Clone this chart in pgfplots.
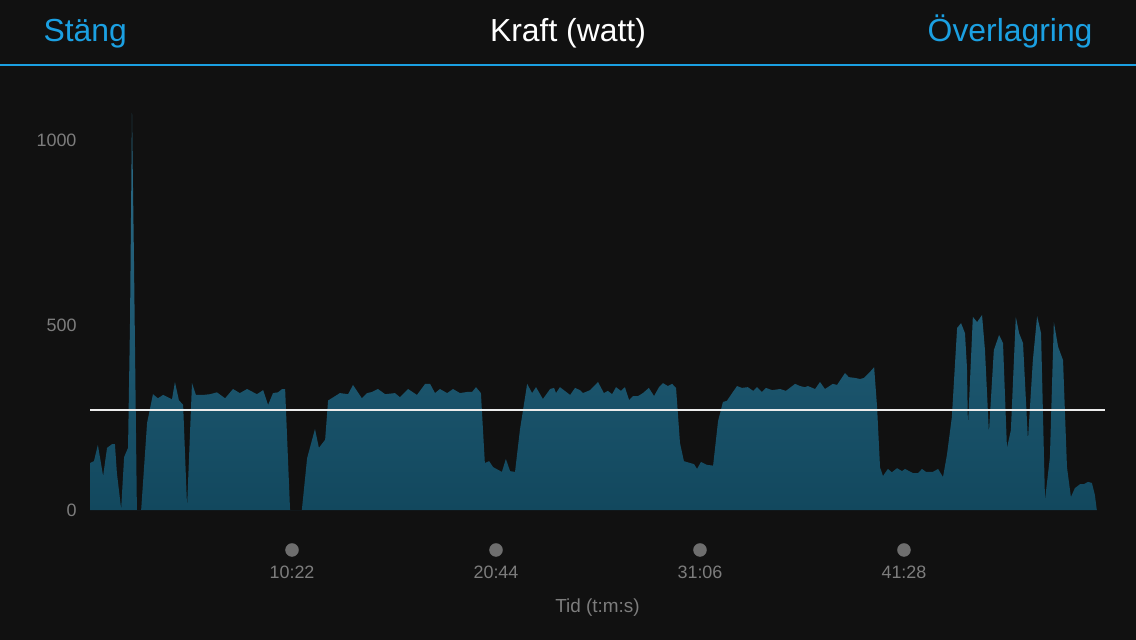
\documentclass[border=0pt]{standalone}
\usepackage{pgfplots}
\pgfplotsset{compat=1.18}
\usepackage{fontspec}
\setmainfont{Liberation Sans}

\definecolor{bg}{RGB}{17,17,17}
\definecolor{iosblue}{RGB}{27,160,226}
\definecolor{ticktext}{RGB}{125,125,125}
\definecolor{dotgray}{RGB}{110,110,110}
\definecolor{filltop}{RGB}{44,108,136}
\definecolor{fillbot}{RGB}{18,72,94}

\pgfplotstableread{
t w
6 127
18 132
30 176
46 92
58 168
73 178
82 178
88 100
101 3
110 143
122 168
128 505
134 1073
140 684
149 0
162 0
180 235
198 313
213 302
229 311
241 306
256 299
265 346
277 297
290 284
302 8
317 343
329 311
351 311
372 313
393 318
418 302
442 327
463 316
485 327
515 313
534 324
549 284
564 316
579 318
592 327
601 327
616 0
652 0
668 140
692 219
704 168
723 190
732 296
768 316
793 313
808 338
835 302
851 316
866 319
884 327
906 313
936 316
951 305
976 327
1003 311
1028 341
1043 341
1058 316
1073 327
1095 316
1113 327
1134 316
1156 319
1171 319
1183 332
1198 316
1210 127
1223 132
1235 116
1262 103
1274 138
1287 105
1302 103
1317 217
1339 341
1354 316
1366 332
1387 300
1409 327
1421 330
1427 316
1439 332
1470 311
1485 330
1500 324
1509 316
1531 324
1555 346
1573 316
1585 322
1598 313
1610 332
1625 322
1637 332
1650 297
1662 308
1677 308
1692 316
1710 330
1726 308
1741 332
1753 343
1768 335
1781 341
1793 330
1805 181
1817 132
1836 127
1848 124
1857 111
1869 130
1887 122
1906 120
1921 240
1936 292
1948 295
1964 316
1979 335
1994 330
2012 332
2028 322
2040 332
2055 319
2067 330
2086 324
2110 327
2128 322
2156 341
2171 335
2186 332
2195 335
2217 327
2232 346
2247 327
2271 341
2284 338
2308 370
2320 359
2339 357
2354 354
2366 357
2381 370
2397 386
2406 278
2415 115
2424 92
2439 111
2451 102
2467 113
2482 105
2491 111
2515 100
2531 100
2543 111
2555 103
2576 103
2592 111
2607 89
2619 149
2634 251
2650 492
2662 505
2674 478
2680 386
2683 224
2698 522
2711 508
2726 527
2735 432
2747 208
2762 432
2778 473
2790 451
2802 168
2814 216
2829 522
2839 478
2851 451
2866 189
2881 405
2894 524
2906 478
2918 27
2933 143
2945 508
2958 441
2973 405
2985 116
2997 35
3009 59
3025 70
3037 70
3049 76
3061 73
3070 41
3076 0
}\kraft

\begin{document}
\begin{tikzpicture}[x=1bp,y=1bp]
% bakgrund och rubrikrad
\fill[bg] (0,0) rectangle (1136,-640);
\useasboundingbox (0,0) rectangle (1136,-640);
\node[text=iosblue, font=\fontsize{32}{36}\selectfont, anchor=base west] at (40,-42) {Stäng};
\node[text=white, font=\fontsize{32}{36}\selectfont, anchor=base] at (568,-42) {Kraft (watt)};
\node[text=iosblue, font=\fontsize{32}{36}\selectfont, anchor=base east] at (1096,-42) {Överlagring};
\draw[iosblue, line width=2.5bp] (0,-65) -- (1136,-65);

\begin{axis}[
  at={(90bp,-510bp)}, anchor=south west,
  scale only axis,
  width=1015bp, height=407bp,
  xmin=6, xmax=3101,
  ymin=0, ymax=1100,
  clip=false,
  axis line style={draw=none},
  major tick length=0pt,
  tick style={draw=none},
  ytick={0,500,1000},
  yticklabel style={/pgf/number format/1000 sep={}, xshift=-10bp},
  xtick={622,1244,1866,2488},
  xticklabels={10:22,20:44,31:06,41:28},
  /pgf/number format/assume math mode=true,
  ticklabel style={font=\fontsize{18}{20}\selectfont, text=ticktext},
  xticklabel style={yshift=-52bp},
  xlabel={Tid (t:m:s)},
  xlabel style={font=\fontsize{19}{22}\selectfont, text=ticktext,
    at={(axis description cs:0.5,0)}, anchor=center, yshift=-98bp},
]
\addplot[draw=none, top color=filltop, bottom color=fillbot] table[x=t, y=w] {\kraft} \closedcycle;
\addplot[color=white!85!gray, line width=1.3bp] coordinates {(6,270) (3101,270)};
\addplot[only marks, mark=*, mark size=6.5bp, color=dotgray] coordinates {(622,-108) (1244,-108) (1866,-108) (2488,-108)};
\end{axis}
\end{tikzpicture}
\end{document}
